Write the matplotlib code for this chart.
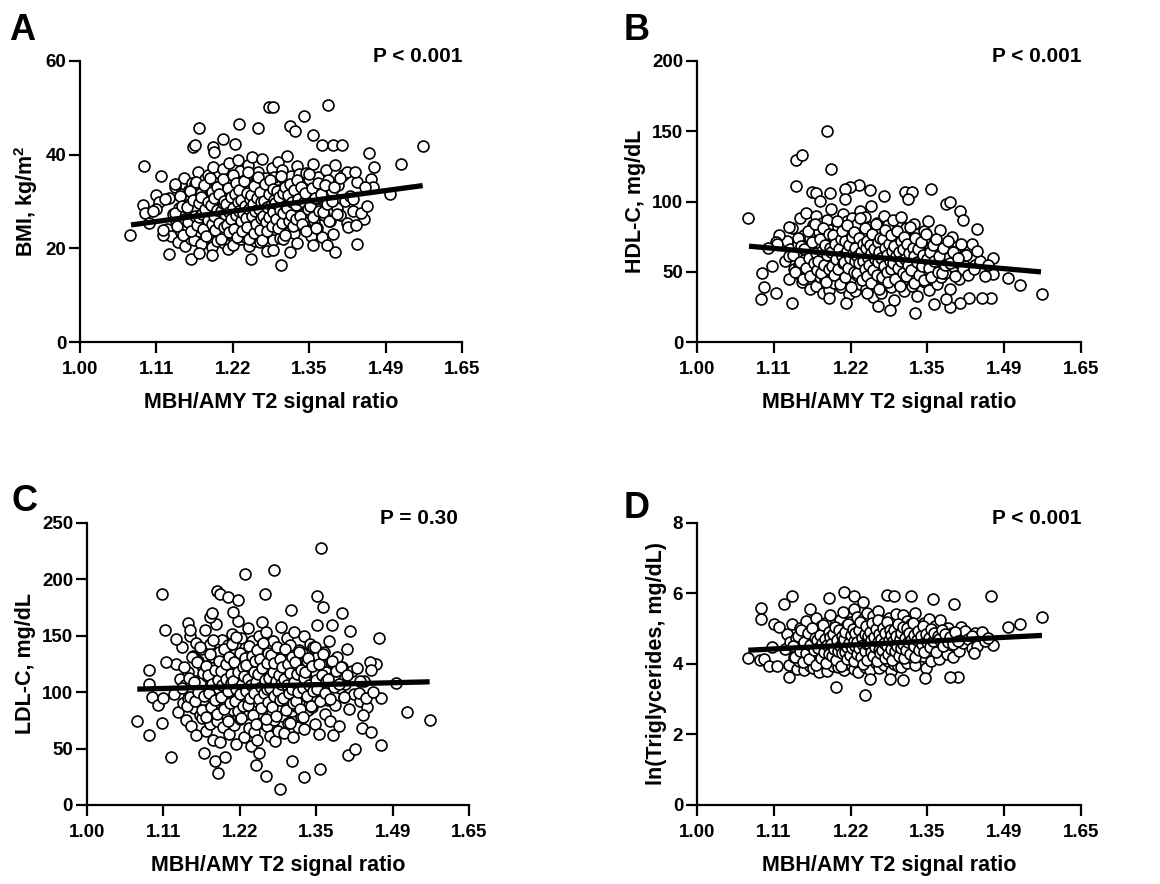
import numpy as np
import matplotlib
matplotlib.use('Agg')
import matplotlib.pyplot as plt
from matplotlib.ticker import FixedLocator, FixedFormatter, NullLocator

plt.rcParams['font.family'] = 'Liberation Sans'
plt.rcParams['font.weight'] = 'bold'
plt.rcParams['axes.labelweight'] = 'bold'
plt.rcParams['mathtext.fontset'] = 'custom'
plt.rcParams['mathtext.bf'] = 'Liberation Sans:bold'
plt.rcParams['mathtext.rm'] = 'Liberation Sans:bold'
plt.rcParams['mathtext.default'] = 'bf'

# x axis is log-scaled, ticks sit at e^0 ... e^0.5
x_tick_labels = ['1.00', '1.11', '1.22', '1.35', '1.49', '1.65']

# MBH/AMY ratio of the main cloud (shared by all four panels)
ratio_core = [
    1.121, 1.124, 1.127, 1.129, 1.132, 1.134, 1.137, 1.139,
    1.141, 1.142, 1.144, 1.146, 1.147, 1.149, 1.151, 1.153, 1.154, 1.156, 1.158, 1.159,
    1.160, 1.161, 1.163, 1.164, 1.165, 1.167, 1.168, 1.170, 1.171, 1.172, 1.174, 1.175, 1.177, 1.178, 1.179,
    1.180, 1.181, 1.182, 1.184, 1.185, 1.186, 1.188, 1.189, 1.190, 1.191, 1.193, 1.194, 1.195, 1.197, 1.198, 1.199,
    1.200, 1.201, 1.202, 1.204, 1.205, 1.206, 1.207, 1.209, 1.210, 1.211, 1.212, 1.214, 1.215, 1.216, 1.217, 1.218, 1.219,
    1.220, 1.221, 1.222, 1.223, 1.224, 1.226, 1.227, 1.228, 1.229, 1.230, 1.231, 1.232, 1.233, 1.235, 1.236, 1.237, 1.238, 1.239,
    1.240, 1.241, 1.242, 1.243, 1.244, 1.246, 1.247, 1.248, 1.249, 1.250, 1.251, 1.252, 1.253, 1.255, 1.256, 1.257, 1.258, 1.259,
    1.260, 1.261, 1.262, 1.264, 1.265, 1.266, 1.267, 1.269, 1.270, 1.271, 1.272, 1.274, 1.275, 1.276, 1.277, 1.278, 1.279,
    1.280, 1.281, 1.282, 1.284, 1.285, 1.286, 1.288, 1.289, 1.290, 1.291, 1.293, 1.294, 1.295, 1.297, 1.298, 1.299,
    1.300, 1.301, 1.303, 1.304, 1.305, 1.307, 1.308, 1.310, 1.311, 1.312, 1.314, 1.315, 1.317, 1.318, 1.319,
    1.320, 1.322, 1.323, 1.325, 1.326, 1.328, 1.329, 1.331, 1.332, 1.334, 1.335, 1.337, 1.339,
    1.341, 1.342, 1.344, 1.346, 1.348, 1.350, 1.351, 1.353, 1.355, 1.357, 1.359,
    1.361, 1.363, 1.366, 1.368, 1.370, 1.372, 1.374, 1.377, 1.379,
    1.381, 1.384, 1.387, 1.390, 1.393, 1.396, 1.399,
    1.402, 1.406, 1.410, 1.414, 1.418,
    1.423, 1.430, 1.437,
]

# second, denser layer of the central cloud
ratio_core2 = [
    1.133, 1.136, 1.140, 1.143, 1.145, 1.148,
    1.150, 1.152, 1.155, 1.157, 1.159, 1.162, 1.164, 1.166, 1.168, 1.169,
    1.171, 1.173, 1.175, 1.176, 1.178, 1.180, 1.182, 1.183, 1.185, 1.187, 1.188, 1.189,
    1.191, 1.192, 1.194, 1.196, 1.197, 1.199, 1.200, 1.202, 1.203, 1.205, 1.206, 1.207, 1.208, 1.209,
    1.211, 1.212, 1.213, 1.215, 1.216, 1.218, 1.219, 1.221, 1.222, 1.224, 1.225, 1.226, 1.227, 1.228, 1.229,
    1.231, 1.232, 1.234, 1.235, 1.236, 1.238, 1.239, 1.241, 1.242, 1.244, 1.245, 1.246, 1.247, 1.248, 1.249,
    1.251, 1.252, 1.254, 1.255, 1.256, 1.258, 1.259, 1.261, 1.262, 1.264, 1.265, 1.266, 1.267, 1.268, 1.269,
    1.271, 1.272, 1.274, 1.275, 1.277, 1.278, 1.280, 1.281, 1.283, 1.284, 1.286, 1.287, 1.288, 1.289,
    1.291, 1.292, 1.294, 1.296, 1.297, 1.299, 1.301, 1.302, 1.304, 1.305, 1.307, 1.308, 1.309,
    1.311, 1.313, 1.315, 1.316, 1.318, 1.320, 1.322, 1.324, 1.326, 1.327, 1.329,
    1.331, 1.333, 1.336, 1.338, 1.340, 1.342, 1.344, 1.347, 1.349,
    1.352, 1.354, 1.357, 1.360, 1.362, 1.365, 1.368,
    1.371, 1.375, 1.378, 1.382, 1.386,
    1.391, 1.395, 1.400, 1.405,
]

bmi_core = [
    24.1, 30.8, 22.6, 27.4, 33.2, 25.9, 21.3, 28.7,
    31.6, 23.4, 26.8, 35.1, 20.5, 29.3, 24.7, 32.4, 27.9, 22.1, 34.0, 26.2,
    28.3, 21.7, 33.8, 25.4, 30.1, 36.2, 23.8, 27.1, 31.9, 20.9, 29.6, 24.3, 34.7, 26.5, 22.8,
    30.4, 25.1, 35.6, 22.4, 28.9, 32.7, 20.2, 27.6, 37.3, 24.0, 31.2, 26.4, 33.9, 21.5, 29.8, 23.6,
    27.2, 33.4, 22.9, 30.7, 25.8, 36.9, 21.1, 28.4, 34.6, 24.5, 31.5, 19.8, 26.9, 38.2, 23.2, 29.9, 32.1,
    25.3, 31.8, 20.7, 35.4, 28.1, 23.9, 33.0, 26.6, 38.9, 22.2, 30.2, 27.7, 36.5, 21.9, 29.1, 34.3, 24.8, 31.4,
    28.6, 22.5, 34.9, 26.1, 31.1, 37.8, 20.4, 29.4, 33.6, 24.4, 27.3, 39.5, 23.1, 30.9, 25.6, 35.8, 21.6, 32.2,
    30.0, 24.2, 36.4, 27.8, 21.4, 33.3, 26.3, 39.1, 29.2, 22.7, 31.7, 25.0, 35.0, 28.2, 19.5, 32.9, 27.0,
    26.7, 33.7, 23.0, 30.5, 37.1, 28.8, 21.8, 35.3, 25.7, 31.3, 29.7, 24.6, 38.4, 27.5, 32.5, 22.3,
    31.0, 25.2, 36.7, 28.0, 22.0, 34.4, 29.5, 26.0, 33.1, 39.8, 23.5, 30.6, 27.9, 35.5, 24.9,
    28.5, 33.5, 23.3, 31.9, 26.8, 37.6, 21.2, 30.3, 35.9, 25.5, 29.0, 34.1, 27.4,
    32.6, 26.0, 36.0, 23.7, 29.6, 34.8, 27.6, 22.6, 31.4, 38.0, 25.8,
    30.8, 24.3, 35.2, 28.3, 33.0, 22.4, 31.6, 27.1, 36.8,
    29.4, 34.5, 25.9, 32.3, 23.1, 37.7, 28.6,
    33.6, 27.2, 35.7, 30.1, 25.4,
    31.2, 28.0, 34.2,
]
bmi_core2 = [
    27.5, 24.8, 31.2, 29.0, 22.9, 26.3,
    28.9, 25.7, 32.3, 23.6, 30.4, 27.0, 34.2, 24.9, 29.7, 26.6,
    31.0, 27.3, 24.2, 33.6, 28.5, 22.7, 30.0, 26.1, 35.0, 29.3, 25.3, 32.0,
    26.9, 30.8, 23.9, 28.2, 33.1, 25.5, 31.7, 27.9, 21.9, 29.6, 34.8, 24.6, 30.1, 27.4,
    29.4, 25.0, 32.8, 27.7, 23.4, 30.9, 26.2, 35.7, 28.7, 24.1, 31.6, 27.1, 33.9, 22.5, 29.9,
    28.0, 32.5, 25.9, 30.3, 23.7, 27.5, 34.3, 29.1, 26.4, 31.9, 24.5, 36.3, 28.4, 22.0, 30.6,
    31.3, 26.8, 29.5, 23.3, 33.4, 27.9, 25.2, 30.7, 35.2, 28.3, 24.0, 32.1, 26.5, 29.8, 21.7,
    27.0, 30.1, 33.7, 25.6, 28.9, 23.8, 31.5, 26.7, 34.6, 29.3, 24.8, 32.7, 27.8, 30.4,
    29.6, 26.2, 32.3, 24.3, 30.9, 28.1, 35.4, 25.4, 31.8, 27.6, 22.9, 33.0, 29.0,
    28.6, 31.4, 25.8, 33.8, 27.2, 30.0, 24.7, 32.4, 29.2, 26.3, 34.5,
    30.6, 27.0, 33.2, 25.1, 29.9, 31.9, 23.6, 28.4, 35.8,
    29.1, 32.8, 26.6, 30.7, 24.4, 34.0, 28.0,
    31.5, 27.7, 33.6, 29.5, 25.9,
    30.2, 33.1, 27.3, 35.0,
]

hdl_core = [
    58, 72, 45, 66, 81, 52, 63, 49,
    70, 55, 88, 61, 43, 76, 59, 92, 50, 67, 38, 74,
    64, 48, 83, 57, 71, 40, 90, 62, 53, 78, 46, 68, 85, 56, 35,
    60, 75, 44, 87, 54, 69, 37, 80, 58, 95, 50, 65, 42, 73, 61, 52,
    66, 47, 82, 57, 71, 39, 63, 91, 53, 76, 45, 68, 59, 86, 49, 72, 34,
    55, 79, 62, 43, 88, 67, 51, 74, 36, 60, 84, 48, 70, 57, 93, 41, 65, 53,
    61, 46, 77, 58, 89, 38, 69, 52, 82, 63, 44, 73, 56, 97, 49, 66, 32, 59,
    71, 54, 41, 85, 60, 47, 76, 64, 35, 80, 57, 68, 43, 90, 51, 62, 74,
    50, 67, 83, 45, 58, 72, 39, 63, 87, 55, 30, 70, 48, 78, 61, 53,
    64, 42, 75, 57, 89, 49, 68, 36, 60, 81, 52, 71, 45, 58, 66,
    55, 73, 40, 62, 84, 48, 67, 33, 59, 77, 51, 65, 44,
    69, 50, 79, 43, 61, 86, 54, 37, 66, 57, 47,
    58, 72, 41, 63, 52, 80, 46, 67, 55,
    49, 68, 60, 38, 75, 54, 64,
    57, 45, 70, 52, 62,
    48, 60, 55,
]
hdl_core2 = [
    62, 50, 74, 57, 68, 45,
    66, 53, 79, 60, 47, 71, 56, 84, 63, 51,
    58, 73, 49, 65, 81, 55, 69, 43, 62, 77, 52, 67,
    64, 54, 76, 48, 70, 59, 86, 52, 66, 41, 73, 61, 79, 56,
    57, 72, 46, 65, 83, 53, 69, 60, 39, 75, 63, 50, 78, 58, 67,
    61, 49, 74, 56, 88, 64, 44, 70, 58, 81, 52, 67, 47, 72, 60,
    55, 69, 42, 63, 77, 51, 66, 59, 84, 48, 71, 57, 38, 64, 74,
    60, 46, 73, 54, 67, 80, 50, 62, 43, 70, 58, 76, 52, 65,
    56, 68, 45, 61, 79, 53, 64, 40, 72, 58, 49, 66, 75,
    59, 47, 70, 55, 63, 82, 51, 67, 42, 61, 74,
    57, 66, 48, 71, 54, 62, 44, 77, 59,
    53, 64, 46, 69, 58, 73, 50,
    61, 49, 67, 55, 72,
    56, 64, 47, 60,
]

ldl_core = [
    98, 125, 82, 112, 140, 90, 106, 75,
    118, 95, 150, 70, 103, 132, 86, 110, 62, 128, 99, 80,
    108, 138, 77, 121, 93, 155, 66, 114, 101, 85, 143, 72, 126, 96, 58,
    131, 88, 104, 160, 74, 117, 97, 136, 56, 111, 83, 146, 69, 124, 102, 91,
    115, 79, 142, 100, 63, 127, 94, 152, 84, 109, 71, 134, 105, 54, 120, 89, 163,
    97, 133, 76, 113, 148, 87, 122, 60, 105, 139, 81, 116, 93, 157, 68, 128, 101, 52,
    110, 145, 84, 125, 65, 102, 136, 92, 118, 58, 107, 150, 78, 130, 96, 162, 73, 114,
    89, 123, 104, 153, 70, 117, 95, 140, 61, 108, 131, 82, 100, 145, 75, 119, 57,
    127, 94, 112, 66, 138, 86, 103, 158, 79, 121, 99, 134, 64, 115, 90, 148,
    106, 73, 129, 96, 142, 83, 118, 60, 111, 153, 88, 124, 101, 69, 137,
    92, 119, 78, 135, 105, 150, 67, 113, 97, 128, 84, 109, 143,
    121, 87, 140, 102, 72, 116, 95, 132, 63, 108, 125,
    100, 136, 81, 118, 93, 145, 74, 111, 126,
    114, 89, 131, 70, 104, 122, 96,
    107, 138, 85, 119, 98,
    121, 92, 110,
]
ldl_core2 = [
    104, 122, 88, 113, 96, 131,
    109, 92, 127, 100, 140, 84, 117, 97, 123, 78,
    115, 99, 134, 87, 107, 146, 93, 120, 81, 111, 128, 103,
    96, 119, 106, 138, 85, 112, 125, 74, 101, 131, 90, 116, 108, 143,
    110, 127, 92, 103, 149, 83, 118, 98, 135, 77, 107, 122, 88, 114, 130,
    101, 124, 89, 112, 141, 95, 106, 132, 80, 118, 99, 128, 72, 109, 137,
    116, 94, 129, 105, 86, 121, 144, 99, 111, 76, 126, 103, 135, 91, 113,
    104, 133, 87, 118, 97, 126, 110, 79, 140, 101, 115, 93, 129, 107,
    122, 95, 112, 138, 84, 106, 125, 99, 117, 73, 131, 103, 90,
    109, 127, 92, 116, 100, 136, 85, 120, 104, 78, 113,
    118, 97, 130, 106, 88, 123, 101, 140, 111,
    103, 125, 92, 115, 134, 99, 110,
    112, 94, 128, 105, 119,
    107, 122, 96, 115,
]

lntg_core = [
    4.42, 4.85, 3.98, 4.61, 5.12, 4.20, 4.73, 3.86,
    4.55, 4.08, 5.02, 4.33, 4.78, 3.82, 4.64, 5.21, 4.16, 4.47, 3.93, 4.90,
    4.38, 4.96, 3.88, 4.70, 4.25, 5.30, 4.52, 4.05, 4.83, 3.76, 4.59, 5.08, 4.12, 4.44, 4.88,
    4.66, 4.10, 5.15, 4.35, 3.80, 4.77, 4.50, 5.40, 4.02, 4.58, 4.93, 3.95, 4.69, 4.22, 5.05, 4.40,
    4.81, 4.28, 3.90, 5.24, 4.56, 4.07, 4.98, 4.45, 5.48, 3.84, 4.62, 4.18, 5.11, 4.74, 3.99, 4.36, 4.87,
    4.53, 5.19, 4.00, 4.68, 4.30, 5.55, 3.87, 4.79, 4.14, 4.95, 4.48, 5.33, 3.78, 4.60, 4.24, 5.01, 4.71, 4.39,
    4.89, 4.19, 5.27, 4.57, 3.92, 4.75, 4.34, 5.44, 4.06, 4.65, 5.09, 4.46, 3.83, 4.82, 4.27, 5.36, 4.54, 4.11,
    4.63, 5.14, 4.03, 4.86, 4.41, 5.50, 3.89, 4.72, 4.21, 4.97, 4.51, 5.23, 3.96, 4.67, 4.32, 5.04, 4.58,
    4.37, 4.94, 4.09, 5.31, 4.76, 4.23, 3.81, 4.61, 5.17, 4.48, 4.01, 4.84, 5.42, 4.29, 4.70, 3.94,
    4.80, 4.26, 5.06, 4.55, 3.91, 4.69, 5.38, 4.13, 4.88, 4.43, 5.21, 4.02, 4.64, 4.97, 4.35,
    4.59, 5.12, 4.17, 4.83, 4.40, 5.46, 3.97, 4.73, 4.25, 5.01, 4.52, 4.91, 4.31,
    4.77, 4.22, 5.16, 4.49, 3.88, 4.85, 4.36, 5.28, 4.62, 4.08, 4.95,
    4.66, 5.09, 4.30, 4.82, 4.14, 5.24, 4.54, 4.92, 4.42,
    4.71, 4.28, 5.02, 4.57, 4.87, 4.19, 4.64,
    4.79, 4.38, 5.06, 4.60, 4.93,
    4.70, 4.45, 4.88,
]
lntg_core2 = [
    4.50, 4.21, 4.79, 4.36, 4.95, 4.05,
    4.63, 4.30, 4.88, 4.14, 4.55, 5.02, 4.41, 4.73, 3.98, 4.67,
    4.46, 4.82, 4.18, 4.60, 5.10, 4.33, 4.71, 4.02, 4.54, 4.91, 4.27, 4.76,
    4.58, 4.24, 4.86, 4.42, 5.05, 4.12, 4.69, 4.37, 4.97, 4.51, 3.95, 4.78, 4.31, 4.64,
    4.70, 4.35, 4.92, 4.48, 4.15, 5.13, 4.59, 4.26, 4.83, 4.44, 5.00, 4.08, 4.66, 4.52, 4.87,
    4.61, 4.29, 4.95, 4.45, 5.18, 4.20, 4.74, 4.53, 4.01, 4.85, 4.38, 5.07, 4.57, 4.12, 4.80,
    4.56, 4.90, 4.34, 4.68, 5.15, 4.23, 4.77, 4.47, 4.98, 4.09, 4.62, 5.26, 4.40, 4.84, 4.30,
    4.72, 4.39, 5.03, 4.60, 4.18, 4.89, 4.50, 5.20, 4.28, 4.67, 4.96, 4.43, 4.81, 4.11,
    4.65, 4.97, 4.36, 4.78, 4.52, 5.12, 4.24, 4.70, 4.89, 4.44, 5.04, 4.58, 4.16,
    4.75, 4.41, 5.01, 4.62, 4.87, 4.29, 4.69, 5.16, 4.50, 4.83, 4.20,
    4.68, 4.93, 4.40, 4.79, 4.57, 5.08, 4.33, 4.86, 4.62,
    4.74, 4.48, 4.99, 4.64, 4.88, 4.35, 4.80,
    4.71, 4.95, 4.52, 4.84, 4.63,
    4.77, 4.58, 4.91, 4.66,
]

# points outside the main cloud, per panel
bmi_out_x = [1.068, 1.087, 1.086, 1.089, 1.104, 1.109, 1.112, 1.105, 1.114, 1.132,
             1.124, 1.156, 1.168, 1.160, 1.163, 1.168, 1.189, 1.190, 1.192, 1.206,
             1.225, 1.232, 1.262, 1.251, 1.280, 1.287, 1.301, 1.317, 1.325, 1.340,
             1.384, 1.356, 1.372, 1.392, 1.409, 1.459, 1.469, 1.523, 1.567, 1.500,
             1.437, 1.450, 1.397, 1.418, 1.433, 1.316, 1.287, 1.382, 1.356, 1.464,
             1.468, 1.421, 1.430, 1.445, 1.452, 1.435, 1.455, 1.095, 1.100, 1.115, 1.118]
bmi_out_y = [22.9, 37.6, 29.2, 27.6, 31.4, 29.9, 35.5, 28.3, 22.8, 33.8,
             18.7, 17.8, 45.6, 41.6, 42.0, 18.9, 18.5, 41.6, 40.5, 43.3,
             42.2, 46.6, 45.7, 17.7, 50.2, 50.2, 16.4, 46.1, 45.0, 48.3,
             50.5, 44.1, 42.1, 42.1, 42.1, 40.3, 37.3, 38.1, 41.9, 31.6,
             21.0, 26.2, 19.2, 36.3, 36.2, 19.2, 19.6, 20.7, 20.7, 34.9,
             33.1, 24.6, 30.5, 27.5, 33.0, 25.0, 29.0, 25.5, 28.0, 24.0, 30.5]

hdl_out_x = [1.069, 1.567, 1.184, 1.137, 1.147, 1.190, 1.138, 1.234, 1.220, 1.253,
             1.213, 1.212, 1.189, 1.162, 1.168, 1.173, 1.276, 1.311, 1.323, 1.316,
             1.356, 1.383, 1.390, 1.408, 1.414, 1.440, 1.470, 1.470, 1.500, 1.522,
             1.467, 1.450, 1.425, 1.408, 1.390, 1.329, 1.285, 1.087, 1.088, 1.091,
             1.109, 1.103, 1.132, 1.127, 1.113, 1.127, 1.108, 1.110, 1.188, 1.214,
             1.247, 1.266, 1.361, 1.383, 1.097, 1.430, 1.445, 1.455, 1.420, 1.435,
             1.440, 1.460]
hdl_out_y = [88.3, 34.0, 150.5, 129.7, 133.3, 123.3, 110.8, 112.0, 110.0, 108.0,
             109.0, 102.0, 106.0, 107.0, 106.0, 100.6, 103.7, 107.0, 106.5, 101.8,
             109.0, 98.5, 99.4, 93.0, 86.6, 80.5, 60.0, 48.5, 45.7, 40.5,
             31.0, 31.0, 31.0, 28.0, 24.6, 20.8, 22.7, 30.3, 48.8, 39.3,
             35.0, 54.4, 28.0, 61.5, 76.4, 81.7, 71.0, 70.0, 31.0, 28.0,
             35.0, 25.6, 27.2, 30.3, 67.0, 70.0, 58.0, 47.0, 62.0, 52.0,
             65.0, 55.0]

ldl_out_x = [1.067, 1.085, 1.085, 1.084, 1.089, 1.097, 1.104, 1.103, 1.116, 1.103,
             1.108, 1.109, 1.123, 1.141, 1.144, 1.153, 1.185, 1.190, 1.175, 1.177,
             1.187, 1.182, 1.198, 1.203, 1.210, 1.219, 1.230, 1.248, 1.263, 1.264,
             1.277, 1.288, 1.307, 1.329, 1.306, 1.352, 1.352, 1.359, 1.362, 1.356,
             1.396, 1.408, 1.420, 1.434, 1.451, 1.465, 1.470, 1.469, 1.499, 1.520,
             1.566, 1.459, 1.448, 1.443, 1.428, 1.411, 1.378, 1.380, 1.166, 1.253,
             1.430, 1.440, 1.450, 1.435, 1.455]
ldl_out_y = [74.4, 62.0, 119.5, 107.0, 95.3, 89.0, 95.0, 72.3, 42.2, 186.8,
             155.5, 126.6, 146.7, 161.0, 155.0, 143.7, 190.0, 187.4, 167.0, 170.0,
             28.0, 39.0, 42.8, 184.0, 171.0, 181.5, 205.0, 35.4, 187.4, 25.7,
             208.7, 13.9, 39.0, 25.0, 172.6, 159.4, 185.0, 228.0, 175.6, 31.6,
             170.3, 44.3, 50.0, 68.5, 65.0, 147.6, 95.0, 53.0, 107.7, 82.3,
             75.3, 125.4, 127.0, 86.5, 99.5, 154.0, 159.4, 62.0, 45.7, 46.3,
             110.0, 95.0, 120.0, 80.0, 100.0]

lntg_out_x = [1.069, 1.087, 1.087, 1.086, 1.091, 1.098, 1.110, 1.106, 1.112, 1.120,
              1.132, 1.127, 1.158, 1.103, 1.188, 1.211, 1.227, 1.199, 1.245, 1.241,
              1.280, 1.292, 1.322, 1.359, 1.397, 1.467, 1.500, 1.522, 1.567, 1.470,
              1.405, 1.390, 1.308, 1.285, 1.346, 1.252, 1.430, 1.440, 1.450, 1.435,
              1.455, 1.460]
lntg_out_y = [4.16, 5.60, 5.29, 4.10, 4.15, 3.94, 3.94, 5.13, 5.04, 5.70,
              5.93, 3.62, 5.57, 4.48, 5.87, 6.04, 5.92, 3.35, 3.13, 5.75,
              5.96, 5.92, 5.93, 5.84, 5.71, 5.94, 5.04, 5.14, 5.32, 4.55,
              3.63, 3.64, 3.54, 3.57, 3.61, 3.57, 4.80, 4.50, 4.90, 4.30,
              4.65, 4.75]

# regression line end points
bmi_fit = [[1.069, 1.566], [25.0, 33.4]]
hdl_fit = [[1.070, 1.565], [68.2, 49.9]]
ldl_fit = [[1.068, 1.566], [102.7, 109.2]]
lntg_fit = [[1.069, 1.567], [4.39, 4.81]]

y_labels = [r'BMI, kg/m$^2$', 'HDL-C, mg/dL', 'LDL-C, mg/dL', 'ln(Triglycerides, mg/dL)']
p_texts = ['P < 0.001', 'P < 0.001', 'P = 0.30', 'P < 0.001']
letters = ['A', 'B', 'C', 'D']
y_max = [60, 200, 250, 8]
y_step = [20, 50, 50, 2]

fig = plt.figure(figsize=(11.6, 8.84), dpi=100)
rects = [[0.0690, 0.6131, 0.3293, 0.3179],
         [0.6009, 0.6131, 0.3310, 0.3179],
         [0.0750, 0.0894, 0.3293, 0.3190],
         [0.6009, 0.0894, 0.3310, 0.3190]]
letter_pos = [(0.008, 0.985), (0.538, 0.985), (0.010, 0.453), (0.538, 0.445)]
p_xpos = [1.0, 1.0, 0.97, 1.0]

panels = [(bmi_core, bmi_core2, bmi_out_x, bmi_out_y, bmi_fit),
          (hdl_core, hdl_core2, hdl_out_x, hdl_out_y, hdl_fit),
          (ldl_core, ldl_core2, ldl_out_x, ldl_out_y, ldl_fit),
          (lntg_core, lntg_core2, lntg_out_x, lntg_out_y, lntg_fit)]

x_ticks = np.exp(np.arange(6) / 10)

for i, (core, core2, ox, oy, fit) in enumerate(panels):
    ax = fig.add_axes(rects[i])
    xs = ratio_core + ox + ratio_core2
    ys = core + oy + core2
    ax.scatter(xs, ys, s=62, facecolor='white', edgecolor='black', linewidth=1.2, zorder=2)
    ax.plot(fit[0], fit[1], color='black', lw=3.8, solid_capstyle='butt', zorder=3)

    ax.set_xscale('log')
    ax.set_xlim(1.0, x_ticks[-1])
    ax.xaxis.set_major_locator(FixedLocator(x_ticks))
    ax.xaxis.set_major_formatter(FixedFormatter(x_tick_labels))
    ax.xaxis.set_minor_locator(NullLocator())
    ax.set_ylim(0, y_max[i])
    ax.set_yticks(np.arange(0, y_max[i] + 1e-9, y_step[i]))

    for s in ['top', 'right']:
        ax.spines[s].set_visible(False)
    for s in ['left', 'bottom']:
        ax.spines[s].set_linewidth(1.6)
    ax.tick_params(axis='both', length=8, width=1.6, labelsize=13.5)
    ax.tick_params(axis='x', pad=6)
    ax.tick_params(axis='y', pad=2)

    ax.set_xlabel('MBH/AMY T2 signal ratio', fontsize=15.5, labelpad=10)
    ax.set_ylabel(y_labels[i], fontsize=15.5, labelpad=4)
    ax.text(p_xpos[i], 1.015, p_texts[i], transform=ax.transAxes, ha='right', va='center',
            fontsize=15, fontweight='bold')
    fig.text(letter_pos[i][0], letter_pos[i][1], letters[i], fontsize=26, fontweight='bold',
             ha='left', va='top')

fig.savefig('out.png', dpi=100)
